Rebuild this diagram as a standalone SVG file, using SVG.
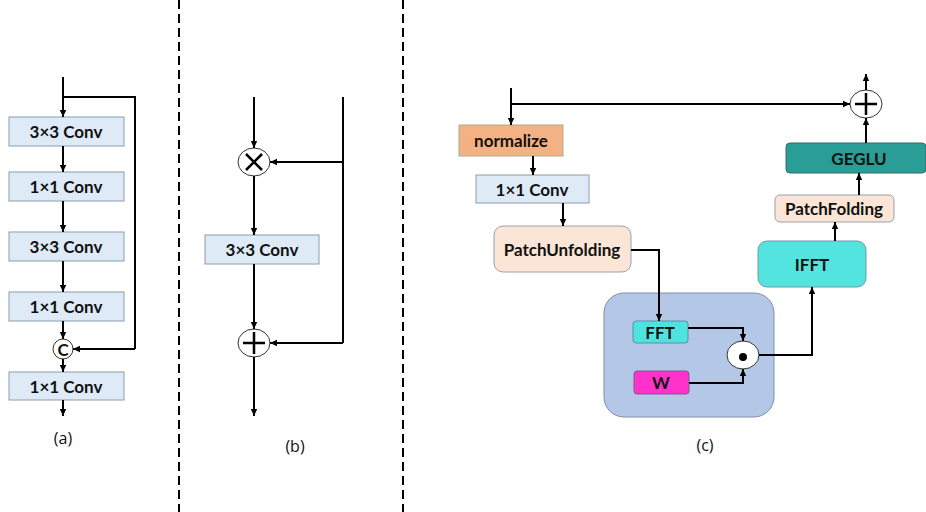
<svg xmlns="http://www.w3.org/2000/svg" width="926" height="512" viewBox="0 0 926 512">
<defs>
<marker id="ah" markerWidth="8" markerHeight="8" refX="7" refY="4" orient="auto" markerUnits="userSpaceOnUse">
<path d="M0,0.8 L7,4 L0,7.2 Z" fill="#000"/>
</marker>
<style>
.ln{fill:none;stroke:#000;stroke-width:2}
.ar{fill:none;stroke:#000;stroke-width:2;marker-end:url(#ah)}
.conv{fill:#DEEBF7;stroke:#8C9DB0;stroke-width:1}
.t{font-family:Lato,"Open Sans","Liberation Sans",sans-serif;font-weight:bold;font-size:17px;fill:#111;text-anchor:middle;dominant-baseline:central}
.lab{font-family:"Open Sans","Liberation Sans",sans-serif;font-size:16px;fill:#111;text-anchor:middle;dominant-baseline:central}
.op{fill:#fff;stroke:#333;stroke-width:1}
.sep{stroke:#000;stroke-width:2;stroke-dasharray:9 5}
</style>
</defs>
<rect width="926" height="512" fill="#fff"/>
<g id="separators">
<line class="sep" x1="179" y1="0" x2="179" y2="512"/>
<line class="sep" x1="403" y1="0" x2="403" y2="512"/>
</g>
<g id="a_conv1"><rect class="conv" x="9" y="117" width="115" height="29"/><text class="t" x="66" y="131.5">3×3 Conv</text></g>
<g id="a_conv2"><rect class="conv" x="9" y="172" width="115" height="29"/><text class="t" x="66" y="186.5">1×1 Conv</text></g>
<g id="a_conv3"><rect class="conv" x="9" y="232" width="115" height="29"/><text class="t" x="66" y="246.5">3×3 Conv</text></g>
<g id="a_conv4"><rect class="conv" x="9" y="292" width="115" height="29"/><text class="t" x="66" y="306.5">1×1 Conv</text></g>
<g id="a_concat"><circle class="op" cx="63" cy="349" r="10"/><text class="t" x="63" y="349" font-size="14">C</text></g>
<g id="a_conv5"><rect class="conv" x="9" y="372" width="115" height="28"/><text class="t" x="66" y="386">1×1 Conv</text></g>
<text class="lab" x="63" y="438">(a)</text>
<g id="b_mul"><ellipse class="op" cx="254" cy="162" rx="16" ry="14"/><path d="M246,154 L262,170 M262,154 L246,170" stroke="#000" stroke-width="2.5"/></g>
<g id="b_conv"><rect class="conv" x="205" y="235" width="114" height="29"/><text class="t" x="262" y="249.5">3×3 Conv</text></g>
<g id="b_add"><ellipse class="op" cx="254" cy="343" rx="16" ry="14"/><path d="M243,343 H265 M254,332 V354" stroke="#000" stroke-width="2.5"/></g>
<text class="lab" x="295" y="446">(b)</text>
<g id="c_normalize"><rect x="459" y="125" width="104" height="31" fill="#F4B183" stroke="#A9B08A" stroke-width="1"/><text class="t" x="511" y="140.5">normalize</text></g>
<g id="c_conv"><rect class="conv" x="476" y="175" width="113" height="28"/><text class="t" x="532" y="189">1×1 Conv</text></g>
<g id="c_unfold"><rect x="494" y="226" width="137" height="46" rx="9" fill="#FBE5D6" stroke="#9AA0A8" stroke-width="1"/><text class="t" x="562" y="249">PatchUnfolding</text></g>
<g id="c_container"><rect x="604" y="293" width="170" height="124" rx="20" fill="#B4C7E7" stroke="#7F8FA9" stroke-width="1"/></g>
<g id="c_fft"><rect x="633" y="321" width="55" height="22" rx="3" fill="#4FE3E0" stroke="#5A8FA0" stroke-width="1"/><text class="t" x="660" y="332">FFT</text></g>
<g id="c_w"><rect x="634" y="371" width="55" height="23" rx="3" fill="#FF33CC" stroke="#7A5A90" stroke-width="1"/><text class="t" x="661" y="382.5" font-size="19">W</text></g>
<g id="c_dot"><ellipse cx="743" cy="355" rx="16" ry="14" fill="#fff" stroke="#333" stroke-width="1"/><circle cx="743" cy="357" r="4" fill="#000"/></g>
<g id="c_ifft"><rect x="758" y="241" width="108" height="46" rx="9" fill="#54E4E0" stroke="#6A9AA5" stroke-width="1"/><text class="t" x="812" y="264">IFFT</text></g>
<g id="c_fold"><rect x="775" y="195" width="119" height="27" rx="5" fill="#FBE5D6" stroke="#9AA0A8" stroke-width="1"/><text class="t" x="834" y="208.5">PatchFolding</text></g>
<g id="c_geglu"><rect x="786" y="143" width="140" height="30" rx="4" fill="#2A9D96" stroke="#2E6E6A" stroke-width="1"/><text class="t" x="859" y="158">GEGLU</text></g>
<g id="c_add"><ellipse class="op" cx="866" cy="104" rx="16" ry="14"/><path d="M855,104 H877 M866,93 V115" stroke="#000" stroke-width="2.5"/></g>
<text class="lab" x="705" y="445">(c)</text>
<g id="connectors">
<line class="ar" x1="63" y1="77" x2="63" y2="117"/>
<polyline class="ln" points="63,97 135,97 135,349"/>
<line class="ar" x1="135" y1="349" x2="73" y2="349"/>
<line class="ar" x1="63" y1="146" x2="63" y2="172"/>
<line class="ar" x1="63" y1="201" x2="63" y2="232"/>
<line class="ar" x1="63" y1="261" x2="63" y2="292"/>
<line class="ar" x1="63" y1="321" x2="63" y2="339"/>
<line class="ar" x1="63" y1="359" x2="63" y2="372"/>
<line class="ar" x1="63" y1="400" x2="63" y2="416"/>
<line class="ar" x1="254" y1="97" x2="254" y2="148"/>
<line class="ln" x1="343" y1="97" x2="343" y2="343"/>
<line class="ar" x1="343" y1="162" x2="270" y2="162"/>
<line class="ar" x1="254" y1="176" x2="254" y2="235"/>
<line class="ar" x1="254" y1="264" x2="254" y2="329"/>
<line class="ar" x1="343" y1="343" x2="270" y2="343"/>
<line class="ar" x1="254" y1="357" x2="254" y2="416"/>
<line class="ar" x1="511" y1="88" x2="511" y2="125"/>
<line class="ar" x1="511" y1="104" x2="850" y2="104"/>
<line class="ar" x1="533" y1="156" x2="533" y2="175"/>
<line class="ar" x1="563" y1="203" x2="563" y2="226"/>
<polyline class="ar" points="631,250 659,250 659,321"/>
<polyline class="ar" points="688,328 743,328 743,341"/>
<polyline class="ar" points="689,383 743,383 743,369"/>
<polyline class="ar" points="759,355 812,355 812,287"/>
<line class="ar" x1="835" y1="241" x2="835" y2="222"/>
<line class="ar" x1="859" y1="195" x2="859" y2="173"/>
<line class="ar" x1="866" y1="143" x2="866" y2="118"/>
<line class="ar" x1="866" y1="90" x2="866" y2="74"/>
</g>
</svg>
